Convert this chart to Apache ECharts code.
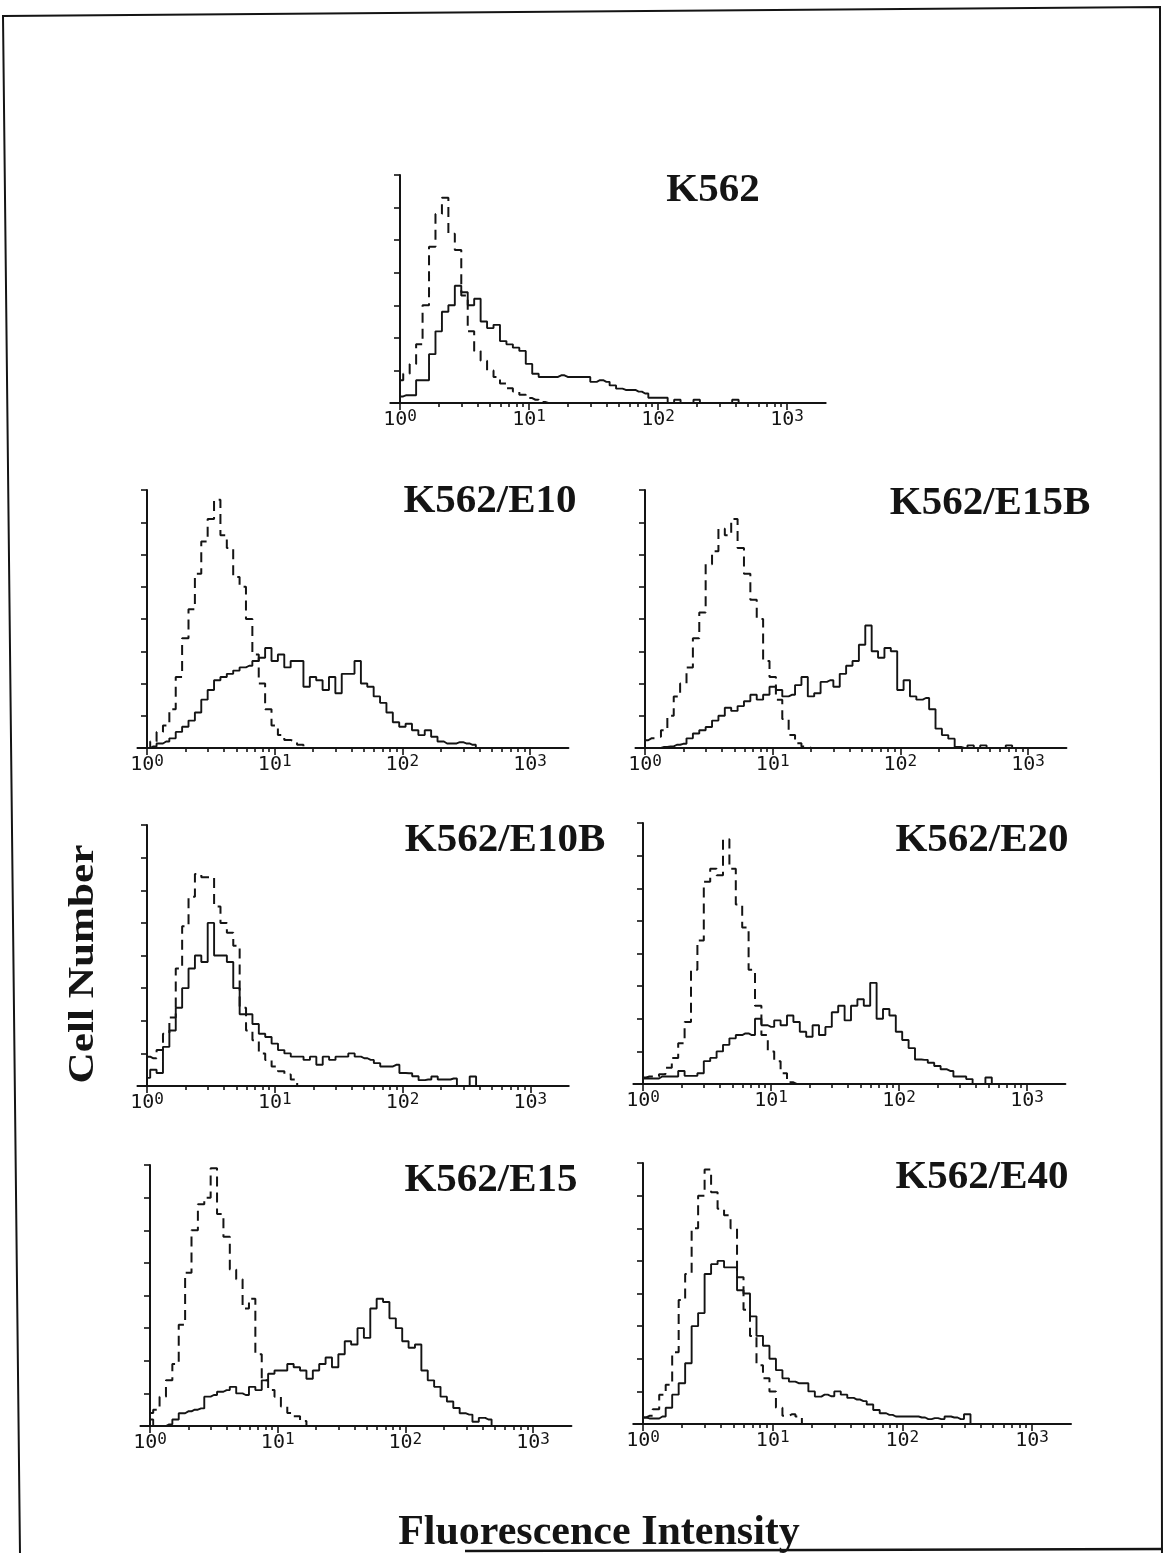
<!DOCTYPE html>
<html>
<head>
<meta charset="utf-8">
<title>Fluorescence Intensity histograms</title>
<script src="https://cdn.jsdelivr.net/npm/echarts@6/dist/echarts.min.js"></script>
<style>
  html, body { margin: 0; padding: 0; background: #fff; }
  #chart { width: 1163px; height: 1553px; }
</style>
</head>
<body>
<div id="chart"></div>
<script>
// Histogram channels: 20 channels per decade, channel 0 = 10^0.
const CHANNELS_PER_DECADE = 20;
const TICK_LABELS = ['10^0', '10^1', '10^2', '10^3'];
const PANEL_NAMES = ['K562', 'K562/E10', 'K562/E15B', 'K562/E10B', 'K562/E20', 'K562/E15', 'K562/E40'];

// Cell counts per channel: dashed = control staining, solid = antibody staining.
const k562Control = [7, 9, 12, 18, 30, 48, 58, 63, 52, 47, 33, 22, 16, 13, 10, 8, 6, 4.5, 3.5, 2.5, 1.5, 1, 0.3, 0];
const k562Stained = [2, 2.4, 2.4, 7, 7, 15, 22, 28, 30, 36, 34, 30, 32, 25, 23, 24, 19, 18, 17, 16, 12, 9, 8, 8, 8, 8.5, 8, 8, 8, 8, 6.5, 7, 6.5, 5.4, 4.4, 4, 4, 3.5, 2.9, 1.6, 1.6, 1.6, 0, 1, 0, 0, 1, 0, 0, 0, 0, 0, 1, 0];

const e10Control = [0, 2, 5, 7, 12, 22, 34, 43, 54, 64, 71, 77, 66, 62, 53, 50, 40, 29, 20, 12, 7, 4, 2.5, 2, 1, 0];
const e10Stained = [0, 0.5, 1.4, 2, 3, 5, 6.6, 8.5, 11, 15, 18, 21, 22, 23, 24, 25, 25.5, 27, 28, 31, 27, 29, 25, 27, 27, 19, 22, 21, 18, 22, 17, 23, 23, 27, 20, 19, 16, 14, 11, 8, 6.6, 7.5, 5.5, 4, 5.5, 3.5, 2, 1.4, 1.4, 1.8, 1.4, 1, 0];

const e15bControl = [2.4, 3, 3.5, 5.5, 10, 16, 20, 25, 34, 42, 57, 61, 68, 66, 71, 62, 54, 46, 40, 27, 22, 15, 9, 4, 1.5, 0.5, 0];
const e15bStained = [0, 0, 0, 0.3, 0.5, 1, 1.3, 3, 4.5, 5.5, 6.5, 8.5, 10, 12.5, 11.5, 13, 14.5, 16.5, 15, 16.5, 19, 18, 16, 16.5, 19.5, 22, 16, 17, 20.5, 21, 19, 23, 25.5, 27, 32, 38, 30, 28, 31, 30, 18, 21, 16, 15, 15.5, 12, 6, 4, 2.9, 0.3, 0, 0.8, 0, 0.8, 0, 0, 0, 0.8, 0];

const e10bControl = [9, 8.5, 11, 16, 21, 36, 49, 58, 65, 64, 64, 55, 50, 47, 43, 24, 17, 14, 10, 8, 6, 4.5, 3.5, 2, 0];
const e10bStained = [2.5, 5, 4, 12, 17, 24, 30, 36, 40, 38, 50, 40, 40, 38, 30, 22, 22, 19, 16, 15, 13, 11, 10, 9, 9, 8, 9, 6.5, 9, 8, 9, 9, 10, 9, 8.5, 8, 7, 6, 6, 6.5, 4, 3.9, 3, 1.8, 2, 2.9, 2, 2, 2.3, 0, 0, 2.9, 0];

const e20Control = [2, 2.3, 2.3, 3, 5, 8, 12.5, 19, 35, 44, 62, 66, 64, 75, 66, 55, 48, 35, 24, 15, 10, 7, 3.3, 0.5, 0];
const e20Stained = [1.7, 1.7, 1.7, 2.3, 2.3, 2.3, 4, 2.5, 2.5, 3.3, 7, 8, 10, 12, 14, 15, 15.5, 15, 20, 18, 17.5, 19.5, 18, 21, 19, 16, 14.5, 18, 15, 17.5, 22, 24, 19.5, 24, 26, 24, 31, 20, 23, 21, 16, 13.5, 11, 7.5, 7.4, 6.5, 5.5, 4.5, 4, 2.3, 2.3, 1.5, 0, 0, 2, 0];

const e15Control = [4, 5, 9, 14, 19, 31, 47, 60, 68, 70, 79, 65, 58, 48, 45, 36, 39, 22, 14, 11, 9, 6, 4, 3, 1.5, 0];
const e15Stained = [2, 0, 0, 0.5, 2, 3.9, 4.5, 5, 5.4, 9, 9.5, 10.5, 11, 12, 10, 9.5, 12, 11, 14, 16, 17, 17, 19, 18, 17, 14.5, 17, 19, 21, 18, 22, 26, 25, 30, 27, 36, 39, 38, 33, 30, 26, 24, 25, 17, 14, 12, 9, 7.5, 5.5, 3.9, 3.5, 1.3, 2.5, 2, 0];

const e40Control = [2, 2.5, 4.5, 9, 12, 22, 38, 46, 60, 70, 78, 71, 66, 64, 60, 45, 35, 27, 18, 14, 10, 5, 2.5, 3, 2.3, 0];
const e40Stained = [2, 1.7, 1.7, 2.3, 5, 9, 12.5, 18.6, 30, 34, 46, 49, 50, 48, 48, 41, 40, 33, 27, 24, 20, 16.5, 14, 13, 12.5, 12.5, 10, 8.4, 9, 8.5, 10, 9, 8, 7.5, 7, 6, 4.3, 3.3, 2.8, 2.3, 2.3, 2.3, 2.3, 2, 1.5, 1.8, 1.5, 2.3, 2, 1.5, 3, 0];

const CONTROLS = [k562Control, e10Control, e15bControl, e10bControl, e20Control, e15Control, e40Control];
const STAINED = [k562Stained, e10Stained, e15bStained, e10bStained, e20Stained, e15Stained, e40Stained];
const Y_MAX = [70, 80, 80, 80, 80, 80, 80];

// Page layout of each panel: position of 10^0, pixels per decade, plot top/bottom, title centre.
const LAYOUT = [
  { x0: 400, decade: 129,   top: 175,  bottom: 403,  tx: 713, ty: 190 },
  { x0: 147, decade: 127.7, top: 490,  bottom: 748,  tx: 490, ty: 501 },
  { x0: 645, decade: 127.7, top: 490,  bottom: 748,  tx: 990, ty: 503 },
  { x0: 147, decade: 127.8, top: 825,  bottom: 1086, tx: 505, ty: 840 },
  { x0: 643, decade: 128,   top: 823,  bottom: 1084, tx: 982, ty: 840 },
  { x0: 150, decade: 127.7, top: 1165, bottom: 1426, tx: 491, ty: 1180 },
  { x0: 643, decade: 129.7, top: 1163, bottom: 1424, tx: 982, ty: 1177 }
];

const X_MIN = -1.5;   // axis line overhangs the y axis slightly
const X_MAX = 66;     // 3.3 decades
const MAJOR = TICK_LABELS.map((_, d) => d * CHANNELS_PER_DECADE);
const MINOR = [];
for (let d = 0; d < TICK_LABELS.length; d++) {
  for (let k = 2; k <= 9; k++) {
    const v = CHANNELS_PER_DECADE * (d + Math.log10(k));
    if (v <= X_MAX) MINOR.push(v);
  }
}

function decadeLabel(v) {
  const parts = TICK_LABELS[Math.round(v / CHANNELS_PER_DECADE)].split('^');
  return '{b|' + parts[0] + '}{s|' + parts[1] + '}';
}

const INK = '#141414';
const MONO = 'DejaVu Sans Mono';
const grids = [], xAxes = [], yAxes = [], series = [], titles = [];

LAYOUT.forEach((L, i) => {
  const px = L.decade / CHANNELS_PER_DECADE;
  grids.push({
    left: L.x0 + X_MIN * px,
    top: L.top,
    width: (X_MAX - X_MIN) * px,
    height: L.bottom - L.top
  });
  xAxes.push({
    gridIndex: i, type: 'value', position: 'bottom', min: X_MIN, max: X_MAX,
    axisLine: { show: true, onZero: true, lineStyle: { color: INK, width: 2 } },
    axisTick: { show: true, customValues: MAJOR, length: 7, lineStyle: { color: INK, width: 1.6 } },
    axisLabel: {
      show: true, customValues: MAJOR, margin: 6,
      formatter: decadeLabel,
      color: INK,
      rich: {
        b: { fontFamily: MONO, fontSize: 20, lineHeight: 22, color: INK },
        s: { fontFamily: MONO, fontSize: 16, lineHeight: 15, verticalAlign: 'top', color: INK }
      }
    },
    splitLine: { show: false }
  });
  xAxes.push({
    gridIndex: i, type: 'value', position: 'bottom', min: X_MIN, max: X_MAX,
    axisLine: { show: false },
    axisTick: { show: true, customValues: MINOR, length: 4, lineStyle: { color: INK, width: 1.6 } },
    axisLabel: { show: false },
    splitLine: { show: false }
  });
  yAxes.push({
    gridIndex: i, type: 'value', min: 0, max: Y_MAX[i], interval: 10,
    axisLine: { show: true, onZero: true, lineStyle: { color: INK, width: 2 } },
    axisTick: { show: true, length: 6, lineStyle: { color: INK, width: 1.6 } },
    axisLabel: { show: false },
    splitLine: { show: false }
  });
  series.push({
    type: 'line', xAxisIndex: 2 * i, yAxisIndex: i, step: 'middle', symbol: 'none', silent: true,
    data: CONTROLS[i].map((v, k) => [k, v]),
    lineStyle: { color: INK, width: 2, type: [10, 6] }
  });
  series.push({
    type: 'line', xAxisIndex: 2 * i, yAxisIndex: i, step: 'middle', symbol: 'none', silent: true,
    data: STAINED[i].map((v, k) => [k, v]),
    lineStyle: { color: INK, width: 1.9 }
  });
  titles.push({
    text: PANEL_NAMES[i], left: L.tx, top: L.ty, padding: 0,
    textAlign: 'center', textVerticalAlign: 'middle',
    textStyle: { fontFamily: 'Liberation Serif', fontWeight: 'bold', fontSize: 41, color: INK }
  });
});

const chart = echarts.init(document.getElementById('chart'), null, { renderer: 'canvas' });
chart.setOption({
  animation: false,
  backgroundColor: '#ffffff',
  title: titles,
  grid: grids,
  xAxis: xAxes,
  yAxis: yAxes,
  series: series,
  graphic: [
    { type: 'polyline', silent: true,
      shape: { points: [[20, 1553], [3, 16], [1160, 7], [1162, 1553]] },
      style: { stroke: INK, lineWidth: 2, fill: null } },
    { type: 'line', silent: true,
      shape: { x1: 465, y1: 1551, x2: 1163, y2: 1549 },
      style: { stroke: INK, lineWidth: 2.5 } },
    { type: 'text', silent: true, x: 84, y: 964, rotation: Math.PI / 2, scaleX: 1.2,
      style: { text: 'Cell Number', font: 'bold 36px "Liberation Serif"', fill: INK,
               textAlign: 'center', textVerticalAlign: 'middle' } },
    { type: 'text', silent: true, x: 599, y: 1533,
      style: { text: 'Fluorescence Intensity', font: 'bold 42px "Liberation Serif"', fill: INK,
               textAlign: 'center', textVerticalAlign: 'middle' } }
  ]
});
</script>
</body>
</html>
